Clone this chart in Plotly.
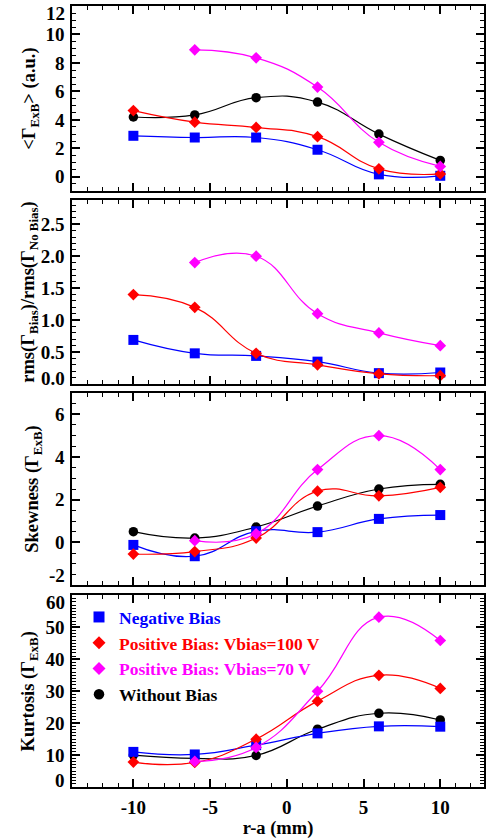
import plotly.graph_objects as go

# ---------------- data ----------------
r = [-10, -6, -2, 2, 6, 10]
r_mag = [-6, -2, 2, 6, 10]

# Panel 1: <Gamma_ExB> (a.u.)
flux_neg = [2.88, 2.76, 2.76, 1.9, 0.17, 0.07]
flux_p100 = [4.65, 3.84, 3.47, 2.82, 0.56, 0.2]
flux_p70 = [8.92, 8.36, 6.3, 2.42, 0.73]
flux_nob = [4.2, 4.35, 5.56, 5.25, 3.0, 1.15]

# Panel 2: rms ratio
rms_neg = [0.69, 0.48, 0.44, 0.35, 0.17, 0.18]
rms_p100 = [1.4, 1.2, 0.48, 0.3, 0.16, 0.13]
rms_p70 = [1.9, 2.0, 1.1, 0.8, 0.6]

# Panel 3: skewness
sk_neg = [-0.12, -0.65, 0.52, 0.48, 1.1, 1.28]
sk_p100 = [-0.55, -0.43, 0.2, 2.4, 2.18, 2.58]
sk_p70 = [0.08, 0.4, 3.41, 5.0, 3.41]
sk_nob = [0.5, 0.2, 0.72, 1.7, 2.5, 2.72]

# Panel 4: kurtosis
ku_neg = [11.0, 10.2, 13.1, 16.8, 19.0, 18.9]
ku_p100 = [7.8, 7.7, 15.0, 26.9, 35.0, 30.9]
ku_p70 = [8.0, 12.4, 30.0, 53.2, 45.9]
ku_nob = [10.0, 9.0, 9.9, 18.1, 23.1, 21.0]

x_ticks = [-10, -5, 0, 5, 10]
x_ticktext = ["-10", "-5", "0", "5", "10"]
y1_ticks = [0, 2, 4, 6, 8, 10, 12]
y1_ticktext = ["0", "2", "4", "6", "8", "10", "12"]
y2_ticks = [0, 0.5, 1.0, 1.5, 2.0, 2.5]
y2_ticktext = ["0.0", "0.5", "1.0", "1.5", "2.0", "2.5"]
y3_ticks = [-2, 0, 2, 4, 6]
y3_ticktext = ["-2", "0", "2", "4", "6"]
y4_ticks = [0, 10, 20, 30, 40, 50, 60]
y4_ticktext = ["0", "10", "20", "30", "40", "50", "60"]

series_names = ["Negative Bias", "Positive Bias: Vbias=100 V",
                "Positive Bias: Vbias=70 V", "Without Bias"]

# ---------------- styles ----------------
BLUE, RED, MAG, BLK = "#0000ff", "#ff0000", "#ff00ff", "#000000"
FONT = "Liberation Serif, Times New Roman, serif"
sty = {
    "neg": dict(color=BLUE, symbol="square", size=10),
    "p100": dict(color=RED, symbol="diamond", size=9),
    "p70": dict(color=MAG, symbol="diamond", size=9),
    "nob": dict(color=BLK, symbol="circle", size=9.5),
}

fig = go.Figure()


def add(x, y, key, ax):
    s = sty[key]
    fig.add_trace(go.Scatter(
        x=x, y=y, mode="lines+markers", showlegend=False,
        line=dict(color=s["color"], width=1.2, shape="spline", smoothing=1.3),
        marker=dict(color=s["color"], symbol=s["symbol"], size=s["size"]),
        xaxis="x" if ax == 1 else f"x{ax}", yaxis="y" if ax == 1 else f"y{ax}",
        cliponaxis=False,
    ))


# panel 1
add(r, flux_nob, "nob", 1)
add(r, flux_neg, "neg", 1)
add(r, flux_p100, "p100", 1)
add(r_mag, flux_p70, "p70", 1)
# panel 2
add(r, rms_neg, "neg", 2)
add(r, rms_p100, "p100", 2)
add(r_mag, rms_p70, "p70", 2)
# panel 3
add(r, sk_nob, "nob", 3)
add(r, sk_neg, "neg", 3)
add(r, sk_p100, "p100", 3)
add(r_mag, sk_p70, "p70", 3)
# panel 4
add(r, ku_nob, "nob", 4)
add(r, ku_neg, "neg", 4)
add(r, ku_p100, "p100", 4)
add(r_mag, ku_p70, "p70", 4)

# legend-only entries (markers only)
for key, name in zip(["neg", "p100", "p70", "nob"], series_names):
    s = sty[key]
    fig.add_trace(go.Scatter(
        x=[None], y=[None], mode="markers",
        name=f'<span style="color:{s["color"]}">{name}</span>',
        marker=dict(color=s["color"], symbol=s["symbol"], size=s["size"] + 1),
        xaxis="x4", yaxis="y4", showlegend=True,
    ))

TICK_SIZE = 19
tickfont = dict(family=FONT, size=TICK_SIZE, color="black", weight="bold")
titlefont = dict(family=FONT, size=18.5, color="black", weight="bold")

common_axis = dict(
    showline=True, linewidth=1.5, linecolor="black", mirror="allticks",
    ticks="inside", ticklen=8, tickwidth=1.5, tickcolor="black",
    showgrid=False, zeroline=False, tickfont=tickfont,
)

domains = [[0.7631, 1.0], [0.516, 0.7516], [0.2586, 0.5045], [0.0, 0.2452]]
y_ticks_all = [y1_ticks, y2_ticks, y3_ticks, y4_ticks]
y_text_all = [y1_ticktext, y2_ticktext, y3_ticktext, y4_ticktext]
y_ranges = [[-1, 12], [0, 2.88], [-2, 7], [0, 60]]
y_minor = [0.5, 0.1, 0.5, 1]
y_standoff = [5, 0, 11, 6]
y_titles = [
    "&lt;Γ<sub>ExB</sub>&gt; (a.u.)",
    "rms(Γ<sub>Bias</sub>)/rms(Γ<sub>No Bias</sub>)",
    "Skewness (Γ<sub>ExB</sub>)",
    "Kurtosis (Γ<sub>ExB</sub>)",
]

layout = dict(
    width=489, height=839,
    margin=dict(l=72, r=3, t=6, b=52),
    paper_bgcolor="white", plot_bgcolor="white",
    showlegend=True,
    legend=dict(
        x=0.017, y=0.2406, xanchor="left", yanchor="top",
        bgcolor="rgba(0,0,0,0)", borderwidth=0,
        font=dict(family=FONT, size=17.5, color="black", weight="bold"),
        itemwidth=30, tracegroupgap=0,
    ),
)

annotations = []
for i in range(4):
    n = "" if i == 0 else str(i + 1)
    xa = dict(common_axis)
    xa.update(
        range=[-14, 12.85], tickmode="array", tickvals=x_ticks, ticktext=x_ticktext,
        minor=dict(dtick=1, tick0=0, ticks="inside", ticklen=4, tickwidth=1,
                   tickcolor="black"),
        anchor=f"y{n}", domain=[0, 1],
        showticklabels=(i == 3),
    )
    if i == 3:
        xa["title"] = dict(text="r-a (mm)", font=titlefont, standoff=3)
        xa["ticklabelstandoff"] = 2
    # labels sitting on the panel edges are nudged inside, as in the original
    lo, hi = y_ranges[i]
    texts = list(y_text_all[i])
    for j, v in enumerate(y_ticks_all[i]):
        if v == lo or v == hi:
            shift = 6 if v == lo else -7
            if i == 2 and v == lo:
                shift = 10
            annotations.append(dict(
                text=texts[j], xref="paper", x=0, xanchor="right",
                xshift=-5, yref=f"y{n}", y=v, yanchor="middle", yshift=shift,
                showarrow=False, font=tickfont,
            ))
            texts[j] = ""
    ya = dict(common_axis)
    ya.update(
        range=y_ranges[i], tickmode="array", tickvals=y_ticks_all[i],
        ticktext=texts, ticklabelstandoff=2,
        minor=dict(dtick=y_minor[i], tick0=0, ticks="inside", ticklen=4,
                   tickwidth=1, tickcolor="black"),
        anchor=f"x{n}", domain=domains[i],
        title=dict(text=y_titles[i], font=titlefont, standoff=y_standoff[i]),
    )
    layout[f"xaxis{n}"] = xa
    layout[f"yaxis{n}"] = ya

layout["annotations"] = annotations
fig.update_layout(**layout)
fig.write_html(
    "out.html",
    config={"displayModeBar": False},
    post_script="document.body.style.margin='0';document.body.style.overflow='hidden';",
)
